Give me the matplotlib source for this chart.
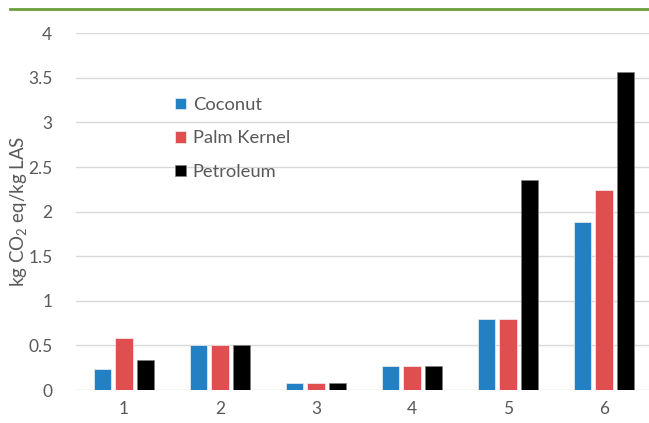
import matplotlib
matplotlib.use("Agg")
import matplotlib.pyplot as plt
import numpy as np

plt.rcParams['font.family'] = ['Lato', 'DejaVu Sans']
plt.rcParams['mathtext.fontset'] = 'custom'
plt.rcParams['mathtext.rm'] = 'Lato'
plt.rcParams['mathtext.it'] = 'Lato'

categories = ['1', '2', '3', '4', '5', '6']
coconut = [0.23, 0.51, 0.074, 0.27, 0.80, 1.88]
palm_kernel = [0.58, 0.51, 0.074, 0.27, 0.80, 2.24]
petroleum = [0.34, 0.51, 0.074, 0.27, 2.35, 3.57]

series = [
    ('Coconut', coconut, '#2380C3'),
    ('Palm Kernel', palm_kernel, '#E04F4F'),
    ('Petroleum', petroleum, '#000000'),
]

W, H = 649, 423
fig = plt.figure(figsize=(W / 100, H / 100), dpi=100)
# plot area runs a little past the right edge of the figure
ax = fig.add_axes([76 / W, (H - 390) / H, 576 / W, (390 - 33.3) / H])

x = np.arange(len(categories))
bw = 0.18
step = 0.222
for i, (name, vals, col) in enumerate(series):
    ax.bar(x + (i - 1) * step, vals, width=bw, color=col, label=name,
           edgecolor='#F0F0F0' if col != '#000000' else '#808080',
           linewidth=0.5, zorder=3)

ax.set_xlim(-0.5, len(categories) - 0.5)
ax.set_ylim(0, 4)
ax.set_yticks(np.arange(0, 4.01, 0.5))
ax.set_yticklabels(['0', '0.5', '1', '1.5', '2', '2.5', '3', '3.5', '4'])
ax.set_xticks(x)
ax.set_xticklabels(categories)
ax.grid(axis='y', color='#D9D9D9', linewidth=1, zorder=0)
for s in ax.spines.values():
    s.set_visible(False)
ax.tick_params(length=0, colors='#595959', labelsize=12.5)
ax.tick_params(axis='y', pad=17)
ax.tick_params(axis='x', pad=8)

ax.set_ylabel('kg CO$_2$ eq/kg LAS', color='#595959', fontsize=13.5)
ax.yaxis.set_label_coords(-47 / 576, 0.5)

leg = ax.legend(loc='upper left', bbox_to_anchor=(82 / 576, (390 - 80.5) / 356.7),
                frameon=False, fontsize=13.2, labelspacing=0.95,
                handlelength=0.6, handleheight=0.6, handletextpad=0.4)
for t in leg.get_texts():
    t.set_color('#595959')

# green rule across the top
fig.add_artist(plt.Line2D([10 / W, 1], [(H - 9.5) / H, (H - 9.5) / H],
                          color='#6A9F3C', linewidth=2, transform=fig.transFigure))

fig.savefig('out.png', dpi=100)
